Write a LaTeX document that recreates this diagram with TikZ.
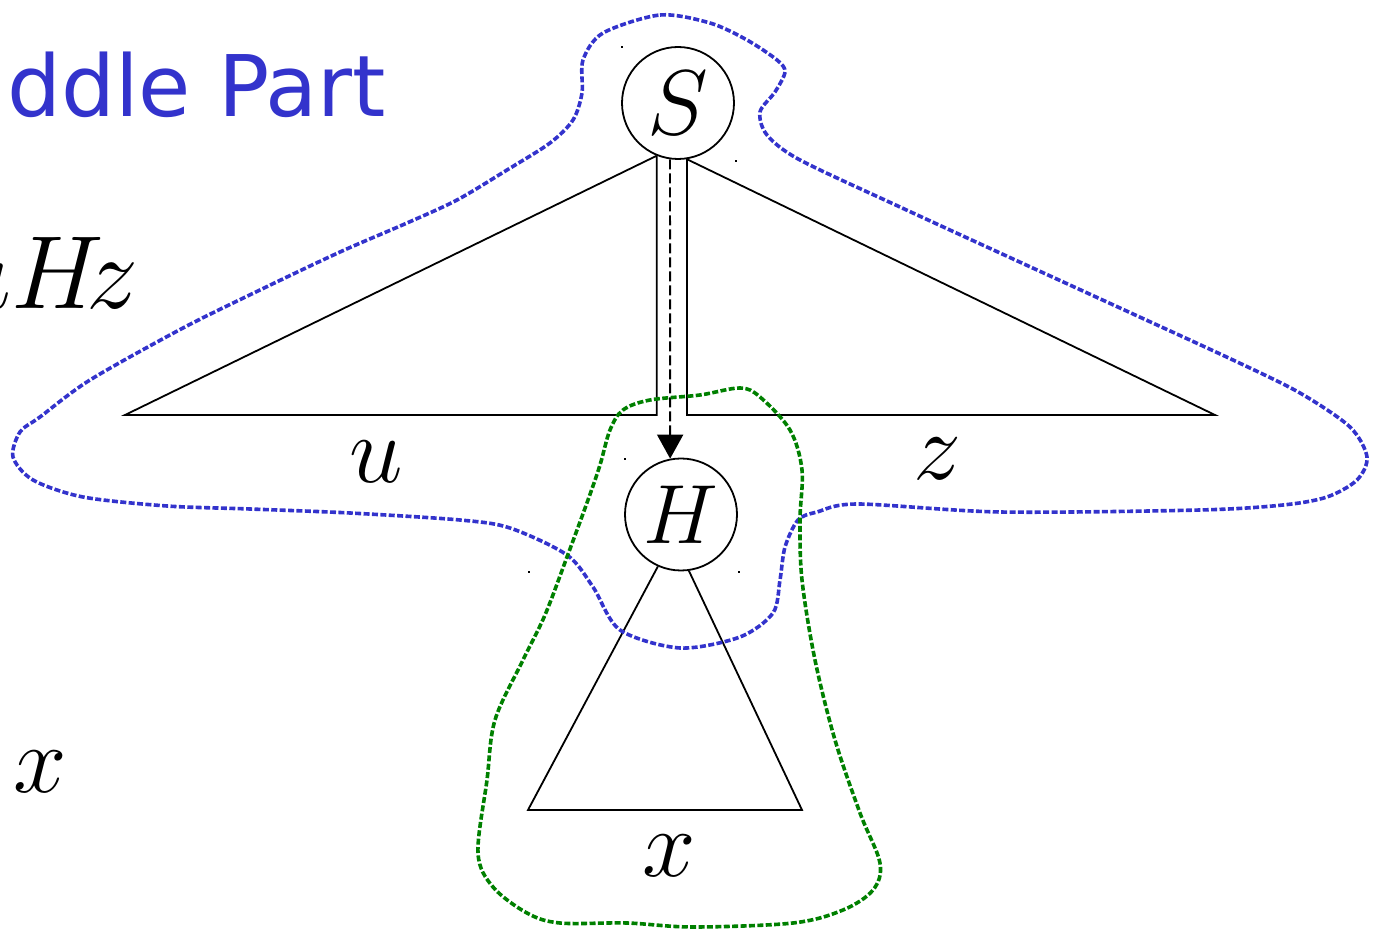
\RequirePackage{fix-cm}
\documentclass[tikz,border=0pt]{standalone}
\usepackage{fontspec}
\newfontfamily\dejasans{DejaVu Sans}
\usetikzlibrary{arrows.meta}
\definecolor{myblue}{RGB}{51,51,204}
\definecolor{mygreen}{RGB}{0,128,0}
\tikzset{
  vert/.style={circle, draw, line width=0.9pt, minimum size=56pt, inner sep=0pt},
  edge/.style={line width=0.9pt},
  lbl/.style={inner sep=0pt, anchor=base, font=\fontsize{48}{48}\selectfont},
  bluecurve/.style={draw=myblue, line width=1.8pt, dash pattern=on 3pt off 1.2pt},
  greencurve/.style={draw=mygreen, line width=1.8pt, dash pattern=on 3pt off 1.2pt},
  tinydot/.style={fill=black}
}
\begin{document}
\begin{tikzpicture}[x=0.5pt,y=-0.5pt]
\useasboundingbox (0,0) rectangle (1378,930);
\clip (0,0) rectangle (1378,930);
% texts
\node[inner sep=0pt, anchor=base west, text=myblue, font=\dejasans\fontsize{42.5}{42.5}\selectfont] (title) at (7,117) {ddle Part};
\node[inner sep=0pt, anchor=base east, font=\fontsize{52}{52}\selectfont] (uhz) at (139,309) {$uH\mkern-3mu z$};
\node[lbl] (xleft) at (40,792) {$x$};
% vertices
\node[vert, font=\fontsize{46}{46}\selectfont] (S) at (678,103) {$S$};
\node[vert, font=\fontsize{42}{42}\selectfont] (H) at (681,514.5) {$H$};
% triangle coordinates
\coordinate (Sl) at (S.248);
\coordinate (Sr) at (S.279);
\coordinate (Sm) at (S.262);
\coordinate (Hl) at (H.246.6);
\coordinate (Hr) at (H.278);
\coordinate (Hm) at (H.101);
\coordinate (LL) at (125,415);
\coordinate (RR) at (1215,415);
\coordinate (BL) at (528,810);
\coordinate (BR) at (802,810);
% left and right triangles
\draw[edge] (Sl) -- (LL) -- (Sl |- LL) -- (Sl);
\draw[edge] (Sr) -- (RR) -- (Sr |- RR) -- (Sr);
% dashed arrow
\draw[edge, dash pattern=on 5pt off 2pt, -{Triangle[length=12pt,width=13pt]}] (Sm) -- (Hm);
% bottom triangle
\draw[edge] (Hl) -- (BL) -- (BR) -- (Hr);
% labels
\node[lbl] (ulab) at (376,483) {$u$};
\node[lbl] (zlab) at (937,480) {$z$};
\node[lbl] (xlab) at (669,877) {$x$};
% tiny marks
\fill[tinydot] (S.west |- S.north) rectangle +(2,2);
\fill[tinydot] (S.east |- S.south) rectangle +(2,2);
\fill[tinydot] (H.west |- H.north) rectangle +(2,2);
\fill[tinydot] (H.east |- H.south) rectangle +(2,2);
\fill[tinydot] (BL |- H.south) rectangle +(2,2);
% blue closed curve
\draw[bluecurve] plot[smooth cycle, tension=0.5] coordinates {
 (603,33) (660,15) (710,23) (747,40) (777,60) (785,72) (775,92) (760,112) (767,135) (800,160)
 (900,207) (1000,253) (1120,308) (1233,360) (1300,393) (1350,427) (1367,457) (1357,480) (1327,497)
 (1283,505) (1200,510) (1000,512) (858,504) (817,512) (798,520) (785,547) (780,580) (773,613)
 (740,637) (680,648) (620,630) (593,587) (567,555) (510,528) (460,520) (350,513) (250,509) (167,506) (83,497)
 (33,480) (13,457) (20,432) (40,417) (90,380) (183,328) (260,290) (340,252) (407,223) (457,200) (507,170)
 (550,143) (573,120) (582,93) (583,60)};
% green closed curve
\draw[greencurve] plot[smooth cycle, tension=0.55] coordinates {
 (740,388) (760,397) (790,430) (802,470) (800,520) (802,580) (815,660) (835,740) (860,813) (880,863)
 (873,890) (843,910) (793,923) (693,927) (627,923) (560,923) (527,913) (493,887) (478,853) (487,780)
 (495,720) (523,660) (545,615) (567,557) (588,500) (600,465) (610,430) (623,410) (650,400) (700,395)};
\end{tikzpicture}
\end{document}
